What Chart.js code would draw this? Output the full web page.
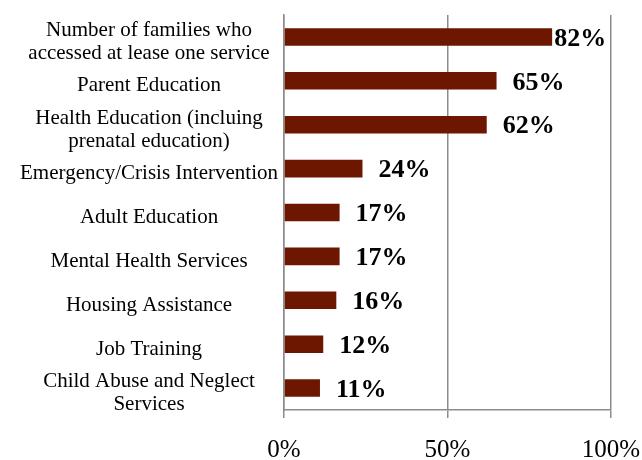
<!DOCTYPE html>
<html>
<head>
<meta charset="utf-8">
<style>
  html, body { margin: 0; padding: 0; background: #fff; }
  #wrap { width: 642px; height: 460px; position: relative; }
</style>
<script src="https://cdn.jsdelivr.net/npm/chart.js@4.4.1/dist/chart.umd.min.js"></script>
</head>
<body>
<div id="wrap"><canvas id="c" width="642" height="460"></canvas></div>
<script>
const categories = [
  ["Number of families who", "accessed at lease one service"],
  "Parent Education",
  ["Health Education (incluing", "prenatal education)"],
  "Emergency/Crisis Intervention",
  "Adult Education",
  "Mental Health Services",
  "Housing Assistance",
  "Job Training",
  ["Child Abuse and Neglect", "Services"]
];
const percentValues = [82, 65, 62, 24, 17, 17, 16, 12, 11];
const xTickValues = [0, 50, 100];

const labelOffsets = [2, 16, 16, 16, 16, 16, 16, 16, 16];
const SERIF = "'Liberation Serif', 'Times New Roman', serif";

const valueLabels = {
  id: 'valueLabels',
  afterDatasetsDraw(chart) {
    const ctx = chart.ctx;
    const meta = chart.getDatasetMeta(0);
    ctx.save();
    ctx.font = "bold 26px " + SERIF;
    ctx.fillStyle = '#000';
    ctx.textAlign = 'left';
    ctx.textBaseline = 'middle';
    meta.data.forEach((bar, i) => {
      ctx.fillText(percentValues[i] + '%', bar.x + labelOffsets[i], bar.y + 2);
    });
    ctx.restore();
  }
};

new Chart(document.getElementById('c'), {
  type: 'bar',
  data: {
    labels: categories,
    datasets: [{
      data: percentValues,
      backgroundColor: '#6E1700',
      borderWidth: 0,
      categoryPercentage: 0.8,
      barPercentage: 0.5
    }]
  },
  options: {
    indexAxis: 'y',
    responsive: false,
    animation: false,
    devicePixelRatio: 1,
    layout: { padding: { left: 0, right: 31, top: 15, bottom: 0 } },
    plugins: { legend: { display: false }, tooltip: { enabled: false } },
    scales: {
      x: {
        min: 0,
        max: 100,
        afterBuildTicks(scale) { scale.ticks = xTickValues.map(v => ({ value: v })); },
        afterFit(scale) {
          scale.height = 50;
          scale.paddingLeft = 0; scale.paddingRight = 0;
          scale.paddingTop = 0; scale.paddingBottom = 0;
        },
        grid: { color: '#8c8c8c', lineWidth: 1.5, drawTicks: true, tickLength: 8 },
        border: { display: true, color: '#8c8c8c', width: 1.5 },
        ticks: {
          padding: 17,
          color: '#000',
          font: { family: SERIF, size: 25 },
          callback: v => v + '%',
          maxRotation: 0
        }
      },
      y: {
        afterFit(scale) {
          scale.width = 284;
          scale.paddingLeft = 0; scale.paddingRight = 0;
          scale.paddingTop = 0; scale.paddingBottom = 0;
        },
        grid: { display: false, drawTicks: false },
        border: { display: true, color: '#8c8c8c', width: 1.5 },
        ticks: {
          autoSkip: false,
          padding: 6,
          labelOffset: 5,
          crossAlign: 'center',
          color: '#000',
          font: { family: SERIF, size: 21, lineHeight: 1.1 }
        }
      }
    }
  },
  plugins: [valueLabels]
});
</script>
</body>
</html>
